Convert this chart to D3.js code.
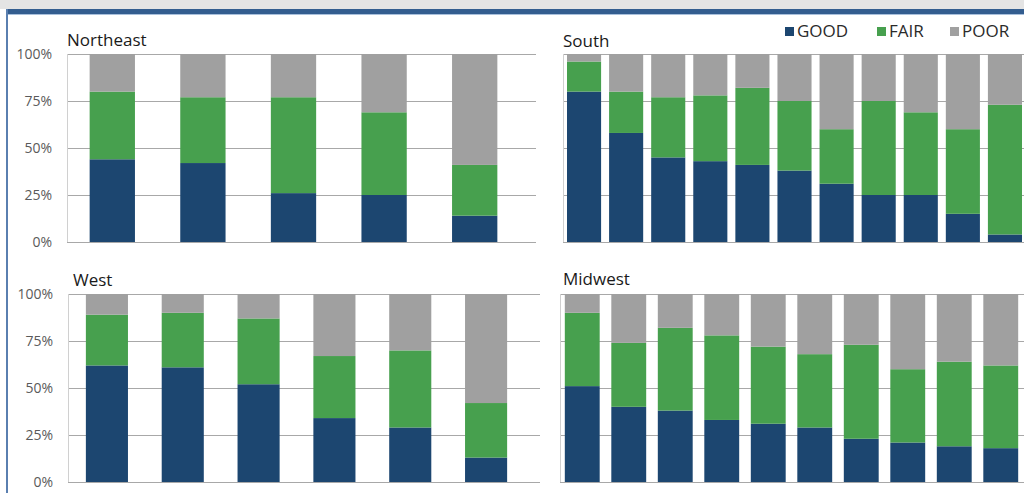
<!DOCTYPE html>
<html>
<head>
<meta charset="utf-8">
<script src="https://cdn.jsdelivr.net/npm/d3@7"></script>
<style>
  html, body { margin: 0; padding: 0; background: #fff; }
  svg { display: block; }
  text { font-family: "Open Sans", "DejaVu Sans", sans-serif; }
</style>
</head>
<body>
<svg id="chart" width="1024" height="493"></svg>
<script>
// ---- data ----
const seriesNames = ["GOOD", "FAIR", "POOR"];
const seriesColors = ["#1c4670", "#47a04e", "#a0a0a0"];
const tickValues = [0, 25, 50, 75, 100];
const tickLabels = ["0%", "25%", "50%", "75%", "100%"];

const northeastGood = [44, 42, 26, 25, 14];
const northeastFair = [36, 35, 51, 44, 27];
const northeastPoor = [20, 23, 23, 31, 59];

const southGood = [80, 58, 45, 43, 41, 38, 31, 25, 25, 15, 4];
const southFair = [16, 22, 32, 35, 41, 37, 29, 50, 44, 45, 69];
const southPoor = [4, 20, 23, 22, 18, 25, 40, 25, 31, 40, 27];

const westGood = [62, 61, 52, 34, 29, 13];
const westFair = [27, 29, 35, 33, 41, 29];
const westPoor = [11, 10, 13, 33, 30, 58];

const midwestGood = [51, 40, 38, 33, 31, 29, 23, 21, 19, 18];
const midwestFair = [39, 34, 44, 45, 41, 39, 50, 39, 45, 44];
const midwestPoor = [10, 26, 18, 22, 28, 32, 27, 40, 36, 38];

// ---- layout ----
const svg = d3.select("#chart");

// frame decorations
svg.append("rect").attr("x", 0).attr("y", 0).attr("width", 1024).attr("height", 9).attr("fill", "#e4e4e4");
svg.append("rect").attr("x", 6).attr("y", 9).attr("width", 1018).attr("height", 5).attr("fill", "#335d8f");
svg.append("rect").attr("x", 6).attr("y", 14).attr("width", 1018).attr("height", 1).attr("fill", "#a9c0dc");
svg.append("rect").attr("x", 6).attr("y", 9).attr("width", 2).attr("height", 484).attr("fill", "#5a7fb0");

const panels = [
  { title: "Northeast", good: northeastGood, fair: northeastFair, poor: northeastPoor,
    xr: [67, 520], gridX: [67, 536], yr: [242, 54], pad: 0.5, labels: true, titleX: 67, titleY: 46, labelX: 52 },
  { title: "South", good: southGood, fair: southFair, poor: southPoor,
    xr: [563, 1026], gridX: [563, 1024], yr: [242, 54], pad: 0.19, labels: false, titleX: 563, titleY: 47 },
  { title: "West", good: westGood, fair: westFair, poor: westPoor,
    xr: [69, 524], gridX: [68, 540], yr: [482, 294], pad: 0.445, labels: true, titleX: 73, titleY: 286, labelX: 53 },
  { title: "Midwest", good: midwestGood, fair: midwestFair, poor: midwestPoor,
    xr: [559, 1024], gridX: [560, 1024], yr: [482, 294], pad: 0.25, labels: false, titleX: 563, titleY: 285 }
];

panels.forEach(p => {
  const n = p.good.length;
  const cats = d3.range(n);
  const rows = cats.map(i => ({ GOOD: p.good[i], FAIR: p.fair[i], POOR: p.poor[i], i }));
  const stack = d3.stack().keys(seriesNames)(rows);

  const x = d3.scaleBand().domain(cats).range(p.xr).paddingInner(p.pad).paddingOuter(p.pad / 2);
  const y = d3.scaleLinear().domain([0, 100]).range(p.yr);

  const g = svg.append("g");

  // gridlines
  g.selectAll("line.grid").data(tickValues).join("line")
    .attr("x1", p.gridX[0]).attr("x2", p.gridX[1])
    .attr("y1", d => Math.round(y(d)) + 0.5).attr("y2", d => Math.round(y(d)) + 0.5)
    .attr("stroke", "#a8a8a8").attr("stroke-width", 1);
  // left axis line
  g.append("line")
    .attr("x1", p.gridX[0] + 0.5).attr("x2", p.gridX[0] + 0.5)
    .attr("y1", y(100)).attr("y2", y(0))
    .attr("stroke", "#d0d0d0").attr("stroke-width", 1);

  // tick labels
  if (p.labels) {
    g.selectAll("text.tick").data(tickValues).join("text")
      .attr("x", p.labelX).attr("y", d => y(d)).attr("dy", "0.36em")
      .attr("text-anchor", "end").attr("font-size", 14).attr("fill", "#5a5a5a")
      .text((d, i) => tickLabels[i]);
  }

  // bars
  stack.forEach((layer, si) => {
    g.selectAll(null).data(layer).join("rect")
      .attr("x", d => x(d.data.i))
      .attr("width", x.bandwidth())
      .attr("y", d => y(d[1]))
      .attr("height", d => y(d[0]) - y(d[1]))
      .attr("fill", seriesColors[si]);
  });

  // title
  g.append("text").attr("x", p.titleX).attr("y", p.titleY)
    .attr("font-size", 17).attr("fill", "#1a1a1a").text(p.title);
});

// legend
const legendX = [785, 877, 950];
const lg = svg.append("g");
seriesNames.forEach((s, i) => {
  lg.append("rect").attr("x", legendX[i]).attr("y", 27).attr("width", 9).attr("height", 9).attr("fill", seriesColors[i]);
  lg.append("text").attr("x", legendX[i] + 12).attr("y", 37).attr("font-size", 17)
    .attr("fill", "#2a2a2a").text(s);
});
</script>
</body>
</html>
